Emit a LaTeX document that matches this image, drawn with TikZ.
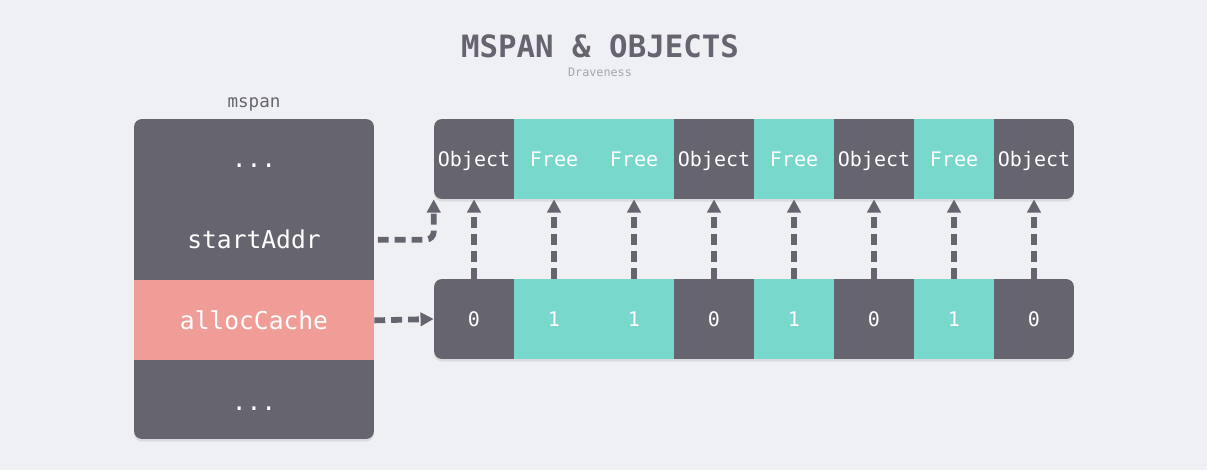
\documentclass[tikz,border=0pt]{standalone}
\usepackage{fontspec}
\setmonofont{DejaVu Sans Mono}
\usetikzlibrary{arrows.meta, positioning, shadows}

\definecolor{bgcol}{HTML}{EFF0F3}
\definecolor{slate}{HTML}{66646F}
\definecolor{mint}{HTML}{78D8CB}
\definecolor{salmon}{HTML}{F19D97}
\definecolor{faint}{HTML}{A5A5AD}

\begin{document}
\begin{tikzpicture}[
  x=0.02cm, y=-0.02cm,
  % Box styles
  framebox/.style={
    rectangle, rounded corners=4.5pt, fill=slate, inner sep=0pt,
    drop shadow={shadow xshift=0pt, shadow yshift=-1.5pt, opacity=0.18}
  },
  usedcell/.style={
    rectangle, minimum width=1.6cm, minimum height=1.6cm, inner sep=0pt,
    text height=8.3pt, text depth=0pt,
    text=white, font=\ttfamily\fontsize{11.4}{13}\selectfont
  },
  freecell/.style={usedcell, fill=mint},
  field/.style={
    rectangle, minimum width=4.8cm, minimum height=1.6cm, inner sep=0pt,
    text height=10.2pt, text depth=0pt,
    text=white, font=\ttfamily\fontsize{14}{16}\selectfont
  },
  % Arrow style
  arr/.style={
    draw=slate, line width=3.3pt, dash pattern=on 6.2pt off 3.4pt,
    -{Triangle[length=7.5pt, width=7.5pt]}
  }
]

%% -- Canvas -----------------------------------------------------
\fill[bgcol] (0,0) rectangle (1207,470);
\useasboundingbox (0,0) rectangle (1207,470);

%% -- Titles -----------------------------------------------------
\node[text=slate, font=\ttfamily\bfseries\fontsize{17.5}{20}\selectfont] (title) at (600,46) {MSPAN \& OBJECTS};
\node[text=faint, font=\ttfamily\fontsize{6.7}{8}\selectfont] (author) at (600,72) {Draveness};

%% -- mspan struct -----------------------------------------------
\node[framebox, minimum width=4.8cm, minimum height=6.4cm] (mspan) at (254,279) {};
\node[text=slate, font=\ttfamily\fontsize{10}{12}\selectfont] (mlabel) at (254,104) {mspan};
\node[field]                           (mtop)  at (254,159) {...};
\node[field, below=0pt of mtop]        (start) {startAddr};
\node[field, fill=salmon, below=0pt of start] (alloc) {allocCache};
\node[field, below=0pt of alloc]       (mbot)  {...};

%% -- Object row and bit row -------------------------------------
\node[framebox, minimum width=12.8cm, minimum height=1.6cm] (objrow) at (754,159) {};
\node[framebox, minimum width=12.8cm, minimum height=1.6cm] (bitrow) at (754,319) {};

\foreach \lab/\bit/\kind [count=\i] in {Object/0/usedcell, Free/1/freecell, Free/1/freecell,
    Object/0/usedcell, Free/1/freecell, Object/0/usedcell, Free/1/freecell, Object/0/usedcell} {
  \node[\kind] (obj\i) at ({394+80*\i},159) {\lab};
  \node[\kind] (bit\i) at ({394+80*\i},319) {\bit};
}

%% -- Arrows: bits -> objects ------------------------------------
\foreach \i in {1,...,8}
  \draw[arr] (bit\i.north) -- (obj\i.south);

%% -- Arrows: mspan fields -> rows -------------------------------
\draw[arr, rounded corners=4.5pt, shorten <=2pt] (start.east) -| (objrow.south west);
\draw[arr] (alloc.east) -- (bitrow.west);

\end{tikzpicture}
\end{document}
